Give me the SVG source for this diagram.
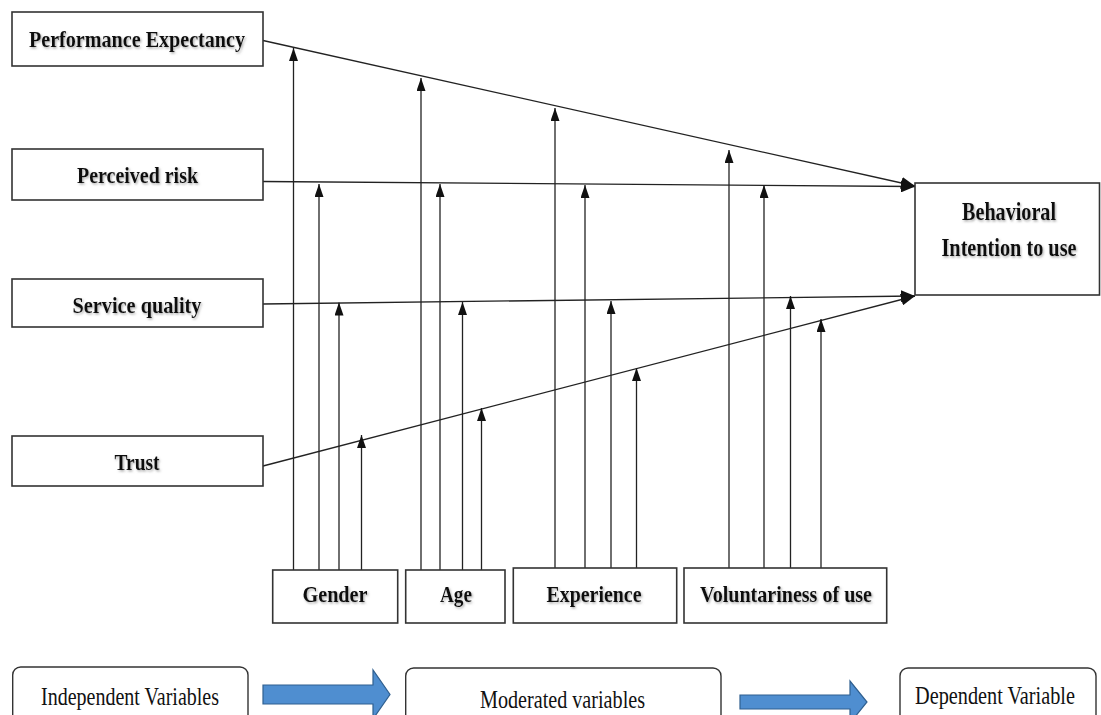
<svg xmlns="http://www.w3.org/2000/svg" width="1101" height="715" viewBox="0 0 1101 715">
<style>
.box{fill:#fff;stroke:#333;stroke-width:1.6}
.rbox{fill:#fff;stroke:#333;stroke-width:1.4}
.lbl{font-family:"Liberation Serif","Times New Roman",serif;font-weight:bold;fill:#111;text-anchor:middle;filter:url(#sh)}
.reg{font-family:"Liberation Serif","Times New Roman",serif;font-weight:normal;fill:#111;text-anchor:middle}
.ln{stroke:#222;stroke-width:1.3;fill:none}
.blue{fill:#4F8ED0;stroke:#2F5F8F;stroke-width:1.2}
</style>
<defs>
<filter id="sh" x="-6%" y="-30%" width="112%" height="170%">
<feDropShadow dx="1.2" dy="1.5" stdDeviation="1.1" flood-color="#777" flood-opacity="0.6"/>
</filter>
<marker id="ah" markerUnits="userSpaceOnUse" markerWidth="13" markerHeight="9" refX="13" refY="4.5" orient="auto" viewBox="0 0 13 9">
<path d="M0,0 L13,4.5 L0,9 z" fill="#111"/>
</marker>
<marker id="ahb" markerUnits="userSpaceOnUse" markerWidth="14" markerHeight="12" refX="14" refY="6" orient="auto" viewBox="0 0 14 12">
<path d="M0,0 L14,6 L0,12 z" fill="#111"/>
</marker>
</defs>

<g id="connectors">
<line class="ln" x1="263" y1="40.5" x2="915" y2="186" marker-end="url(#ahb)"/>
<line class="ln" x1="263" y1="181.5" x2="915" y2="186.5" marker-end="url(#ahb)"/>
<line class="ln" x1="263" y1="304" x2="915" y2="296" marker-end="url(#ahb)"/>
<line class="ln" x1="263" y1="466" x2="915" y2="296" marker-end="url(#ahb)"/>

<line class="ln" x1="293.5" y1="570" x2="293.5" y2="48" marker-end="url(#ah)"/>
<line class="ln" x1="319" y1="570" x2="319" y2="184" marker-end="url(#ah)"/>
<line class="ln" x1="339" y1="570" x2="339" y2="302.5" marker-end="url(#ah)"/>
<line class="ln" x1="361.5" y1="570" x2="361.5" y2="435" marker-end="url(#ah)"/>

<line class="ln" x1="421" y1="570" x2="421" y2="78" marker-end="url(#ah)"/>
<line class="ln" x1="440" y1="570" x2="440" y2="184" marker-end="url(#ah)"/>
<line class="ln" x1="462.5" y1="570" x2="462.5" y2="302" marker-end="url(#ah)"/>
<line class="ln" x1="481.5" y1="570" x2="481.5" y2="408" marker-end="url(#ah)"/>

<line class="ln" x1="555" y1="568" x2="555" y2="108" marker-end="url(#ah)"/>
<line class="ln" x1="585" y1="568" x2="585" y2="185" marker-end="url(#ah)"/>
<line class="ln" x1="611" y1="568" x2="611" y2="301" marker-end="url(#ah)"/>
<line class="ln" x1="636.5" y1="568" x2="636.5" y2="368" marker-end="url(#ah)"/>

<line class="ln" x1="729" y1="568" x2="729" y2="150" marker-end="url(#ah)"/>
<line class="ln" x1="764" y1="568" x2="764" y2="185" marker-end="url(#ah)"/>
<line class="ln" x1="790.5" y1="568" x2="790.5" y2="296" marker-end="url(#ah)"/>
<line class="ln" x1="821" y1="568" x2="821" y2="319" marker-end="url(#ah)"/>
</g>

<g id="performance-expectancy">
<rect class="box" x="12" y="12" width="251" height="54"/>
<text class="lbl" x="137" y="47" font-size="24" textLength="216" lengthAdjust="spacingAndGlyphs">Performance Expectancy</text>
</g>
<g id="perceived-risk">
<rect class="box" x="12" y="149" width="251" height="51"/>
<text class="lbl" x="137.5" y="183" font-size="24" textLength="121" lengthAdjust="spacingAndGlyphs">Perceived risk</text>
</g>
<g id="service-quality">
<rect class="box" x="12" y="279" width="251" height="48"/>
<text class="lbl" x="137" y="313" font-size="24" textLength="129" lengthAdjust="spacingAndGlyphs">Service quality</text>
</g>
<g id="trust">
<rect class="box" x="12" y="436" width="251" height="50"/>
<text class="lbl" x="137" y="470" font-size="24" textLength="45" lengthAdjust="spacingAndGlyphs">Trust</text>
</g>

<g id="behavioral-intention">
<rect class="box" x="915" y="183" width="184.5" height="112"/>
<text class="lbl" transform="translate(1009 220) scale(0.81 1)" x="0" y="0" font-size="25" textLength="116" lengthAdjust="spacingAndGlyphs">Behavioral</text>
<text class="lbl" transform="translate(1009 256) scale(0.81 1)" x="0" y="0" font-size="25" textLength="166.7" lengthAdjust="spacingAndGlyphs">Intention to use</text>
</g>

<g id="gender">
<rect class="box" x="272.7" y="570" width="125" height="53"/>
<text class="lbl" x="335" y="602" font-size="24" textLength="65" lengthAdjust="spacingAndGlyphs">Gender</text>
</g>
<g id="age">
<rect class="box" x="405.7" y="570" width="99.3" height="53"/>
<text class="lbl" x="456" y="602" font-size="24" textLength="32" lengthAdjust="spacingAndGlyphs">Age</text>
</g>
<g id="experience">
<rect class="box" x="513.3" y="568" width="163.4" height="55"/>
<text class="lbl" x="594" y="602" font-size="24" textLength="95" lengthAdjust="spacingAndGlyphs">Experience</text>
</g>
<g id="voluntariness">
<rect class="box" x="684" y="568" width="202.7" height="55"/>
<text class="lbl" x="786" y="602" font-size="24" textLength="172" lengthAdjust="spacingAndGlyphs">Voluntariness of use</text>
</g>

<g id="legend-independent">
<rect class="rbox" x="12.7" y="667" width="235.3" height="60" rx="8"/>
<text class="reg" transform="translate(130 705) scale(0.77 1)" x="0" y="0" font-size="26" textLength="231.2" lengthAdjust="spacingAndGlyphs">Independent Variables</text>
</g>
<g id="legend-arrow-1">
<path class="blue" d="M263,685 L373,685 L373,670 L390,694.5 L373,719 L373,704 L263,704 z"/>
</g>
<g id="legend-moderated">
<rect class="rbox" x="405.7" y="668" width="315.3" height="60" rx="8"/>
<text class="reg" transform="translate(562.5 708) scale(0.77 1)" x="0" y="0" font-size="26" textLength="214.3" lengthAdjust="spacingAndGlyphs">Moderated variables</text>
</g>
<g id="legend-arrow-2">
<path class="blue" d="M740,695 L850,695 L850,681 L867,702 L850,723 L850,709 L740,709 z"/>
</g>
<g id="legend-dependent">
<rect class="rbox" x="900" y="668" width="196" height="60" rx="8"/>
<text class="reg" transform="translate(995 704) scale(0.77 1)" x="0" y="0" font-size="26" textLength="207.8" lengthAdjust="spacingAndGlyphs">Dependent Variable</text>
</g>
</svg>
